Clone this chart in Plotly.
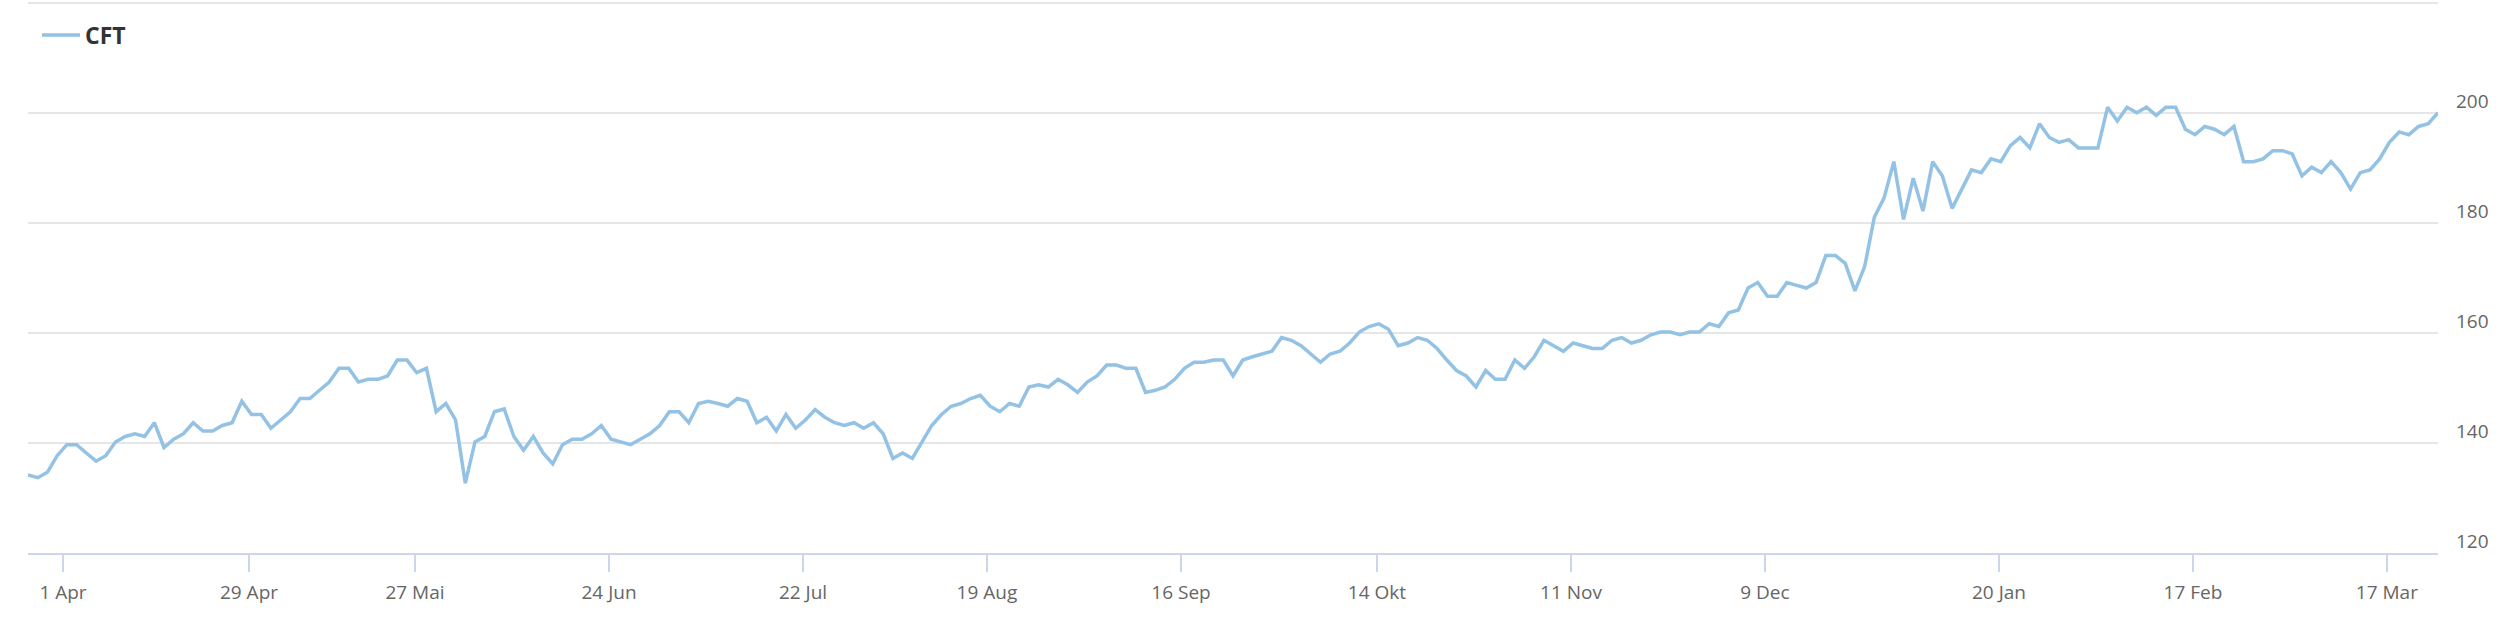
import plotly.graph_objects as go

series_name = "CFT"

cft_values = [
    134.2, 133.7, 134.7, 137.7, 139.7, 139.7, 138.2, 136.7, 137.7, 140.2,
    141.2, 141.7, 141.2, 143.7, 139.2, 140.7, 141.7, 143.7, 142.2, 142.2,
    143.2, 143.7, 147.6, 145.2, 145.2, 142.7, 144.2, 145.7, 148.1, 148.1,
    149.6, 151.1, 153.6, 153.6, 151.1, 151.6, 151.6, 152.2, 155.1, 155.1,
    152.8, 153.6, 145.7, 147.2, 144.2, 132.7, 140.2, 141.2, 145.7, 146.2,
    141.2, 138.7, 141.2, 138.2, 136.2, 139.7, 140.7, 140.7, 141.7, 143.2,
    140.7, 140.2, 139.7, 140.7, 141.7, 143.2, 145.7, 145.7, 143.7, 147.2,
    147.6, 147.2, 146.7, 148.1, 147.6, 143.7, 144.7, 142.2, 145.2, 142.7,
    144.2, 146.1, 144.7, 143.7, 143.2, 143.7, 142.7, 143.7, 141.7, 137.2,
    138.2, 137.2, 140.2, 143.2, 145.2, 146.7, 147.2, 148.1, 148.7, 146.7,
    145.7, 147.2, 146.7, 150.2, 150.6, 150.2, 151.6, 150.6, 149.2, 151.1,
    152.2, 154.2, 154.2, 153.6, 153.6, 149.2, 149.6, 150.2, 151.6, 153.6,
    154.7, 154.7, 155.1, 155.1, 152.2, 155.1, 155.7, 156.2, 156.7, 159.2,
    158.7, 157.7, 156.2, 154.7, 156.2, 156.7, 158.2, 160.2, 161.2, 161.7,
    160.7, 157.7, 158.2, 159.2, 158.7, 157.2, 155.1, 153.2, 152.2, 150.2,
    153.2, 151.6, 151.6, 155.1, 153.6, 155.7, 158.7, 157.7, 156.7, 158.2,
    157.7, 157.2, 157.2, 158.7, 159.2, 158.2, 158.7, 159.7, 160.2, 160.2,
    159.7, 160.2, 160.2, 161.7, 161.2, 163.7, 164.2, 168.2, 169.2, 166.7,
    166.7, 169.2, 168.7, 168.2, 169.2, 174.1, 174.1, 172.7, 167.7, 172.1,
    181.1, 184.6, 191.2, 180.7, 188.2, 182.2, 191.2, 188.6, 182.7, 186.2,
    189.7, 189.2, 191.7, 191.2, 194.1, 195.6, 193.7, 198.1, 195.6, 194.7,
    195.2, 193.7, 193.7, 193.7, 201.1, 198.6, 201.1, 200.1, 201.1, 199.6,
    201.1, 201.1, 197.1, 196.1, 197.6, 197.1, 196.1, 197.6, 191.2, 191.2,
    191.7, 193.2, 193.2, 192.6, 188.6, 190.2, 189.2, 191.2, 189.2, 186.2,
    189.2, 189.7, 191.7, 194.7, 196.6, 196.1, 197.6, 198.1, 200.1,
]

tick_labels = ["1 Apr", "29 Apr", "27 Mai", "24 Jun", "22 Jul", "19 Aug", "16 Sep",
               "14 Okt", "11 Nov", "9 Dec", "20 Jan", "17 Feb", "17 Mar"]
tick_index = [3.6, 22.74, 39.82, 59.79, 79.75, 98.68, 118.65,
              138.81, 158.78, 178.74, 202.82, 222.78, 242.74]

y_ticks = [120, 140, 160, 180, 200, 220]
y_tick_text = ["120", "140", "160", "180", "200", ""]

x_index = list(range(len(cft_values)))

fig = go.Figure()
fig.add_trace(go.Scatter(
    x=x_index, y=cft_values, mode="lines", name=series_name,
    line=dict(color="#93c2e5", width=3.5), showlegend=True,
))

W, H = 2516, 640
L, R, T, B = 28, 78, 2, 87
pw, ph = W - L - R, H - T - B
fig.update_layout(
    width=W, height=H,
    margin=dict(l=L, r=R, t=T, b=B, pad=0, autoexpand=False),
    paper_bgcolor="white", plot_bgcolor="white",
    font=dict(family="Open Sans", color="#666666", size=19),
    showlegend=True,
    legend=dict(
        x=(37 - L) / pw, y=(H - B - 35) / ph, xanchor="left", yanchor="middle",
        orientation="h", bgcolor="rgba(0,0,0,0)", itemwidth=38,
        font=dict(family="Open Sans", size=23, color="#333333", weight="bold"),
    ),
    xaxis=dict(
        range=[0, len(cft_values) - 1],
        tickmode="array", tickvals=tick_index, ticktext=tick_labels,
        showgrid=False, zeroline=False,
        showline=True, linecolor="#ccd6eb", linewidth=2,
        ticks="outside", ticklen=17, tickwidth=2, tickcolor="#ccd6eb",
        tickfont=dict(family="Open Sans", size=19, color="#666666"),
        ticklabelstandoff=4,
    ),
    yaxis=dict(
        range=[120, 220.24], side="right",
        tickmode="array", tickvals=y_ticks, ticktext=y_tick_text,
        showgrid=True, gridcolor="#e6e6e6", gridwidth=1.5,
        zeroline=False, showline=False, ticks="",
        tickfont=dict(family="Open Sans", size=19, color="#666666"),
        ticklabelshift=-12, ticklabelstandoff=17,
    ),
)

fig.write_html(
    "out.html",
    config={"displayModeBar": False},
    post_script="document.body.style.margin='0';document.body.style.overflow='hidden';",
)
